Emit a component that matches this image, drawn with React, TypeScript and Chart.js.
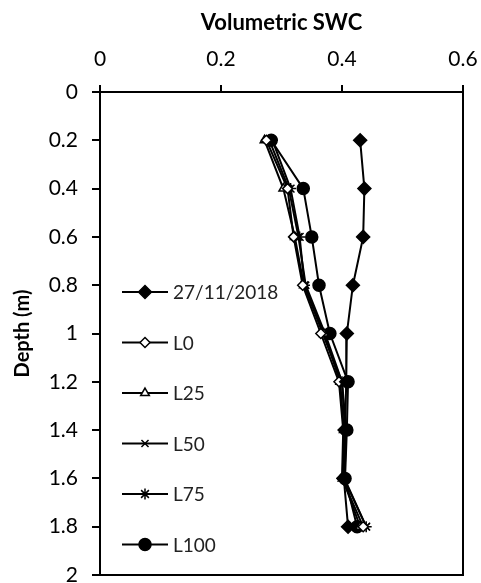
import React, { useEffect, useRef } from 'react';
import { Chart, registerables } from 'chart.js';
import { drawPoint } from 'chart.js/helpers';

Chart.register(...registerables);

// ---- data ----
const depths = [0.2, 0.4, 0.6, 0.8, 1.0, 1.2, 1.4, 1.6, 1.8];
const swc271118 = [0.43, 0.437, 0.435, 0.418, 0.408, 0.407, 0.405, 0.403, 0.41];
const swcL0 = [0.275, 0.31, 0.32, 0.335, 0.365, 0.395, 0.402, 0.4, 0.435];
const swcL25 = [0.272, 0.303, 0.322, 0.337, 0.37, 0.397, 0.403, 0.401, 0.43];
const swcL50 = [0.28, 0.312, 0.328, 0.34, 0.372, 0.4, 0.405, 0.403, 0.44];
const swcL75 = [0.285, 0.315, 0.33, 0.338, 0.368, 0.4, 0.407, 0.404, 0.44];
const swcL100 = [0.283, 0.336, 0.35, 0.362, 0.38, 0.41, 0.408, 0.405, 0.425];
const seriesNames = ['27/11/2018', 'L0', 'L25', 'L50', 'L75', 'L100'];
const seriesValues = [swc271118, swcL0, swcL25, swcL50, swcL75, swcL100];
const xTitle = 'Volumetric SWC';
const yTitle = 'Depth (m)';

const FONT = 'Lato, "Open Sans", sans-serif';

const markerStyles = [
  { pointStyle: 'rectRot', radius: 6.5, fill: '#000' },
  { pointStyle: 'rectRot', radius: 5, fill: '#fff' },
  { pointStyle: 'triangle', radius: 5, fill: '#fff' },
  { pointStyle: 'crossRot', radius: 5, fill: '#000' },
  { pointStyle: 'star', radius: 5.5, fill: '#000' },
  { pointStyle: 'circle', radius: 6, fill: '#000' },
];

const fmt = (v: any) => String(Number(Number(v).toFixed(1)));

const frameAndLegend = {
  id: 'frameAndLegend',
  afterDatasetsDraw(chart: any) {
    const { ctx, chartArea } = chart;
    ctx.save();
    ctx.strokeStyle = '#000';
    ctx.lineWidth = 2;
    ctx.strokeRect(chartArea.left, chartArea.top, chartArea.right - chartArea.left, chartArea.bottom - chartArea.top);

    // legend inside plot area
    const x0 = chartArea.left + 22;
    const x1 = chartArea.left + 68;
    const xm = (x0 + x1) / 2;
    chart.data.datasets.forEach((ds: any, i: number) => {
      const y = chartArea.top + 200 + i * 50.5;
      ctx.strokeStyle = '#000';
      ctx.lineWidth = 2;
      ctx.beginPath();
      ctx.moveTo(x0, y);
      ctx.lineTo(x1, y);
      ctx.stroke();
      ctx.fillStyle = ds.pointBackgroundColor;
      ctx.strokeStyle = '#000';
      ctx.lineWidth = 1.5;
      drawPoint(ctx, { pointStyle: ds.pointStyle, radius: ds.pointRadius, borderWidth: 1.5, rotation: 0 }, xm, y);
      ctx.fillStyle = '#222';
      ctx.font = `19px ${FONT}`;
      ctx.textAlign = 'left';
      ctx.textBaseline = 'middle';
      ctx.fillText(ds.label, x1 + 5, y + 1);
    });
    ctx.restore();
  },
};

export default function App() {
  const ref = useRef<HTMLCanvasElement | null>(null);
  useEffect(() => {
    document.body.style.margin = '0';
    const canvas = ref.current!;
    const datasets = seriesNames.map((name, i) => ({
      label: name,
      data: seriesValues[i].map((v, j) => ({ x: v, y: depths[j] })),
      showLine: true,
      borderColor: '#000',
      borderWidth: 2,
      tension: 0,
      pointStyle: markerStyles[i].pointStyle,
      pointRadius: markerStyles[i].radius,
      pointBackgroundColor: markerStyles[i].fill,
      pointBorderColor: '#000',
      pointBorderWidth: 1.5,
    }));
    const chart = new Chart(canvas, {
      type: 'scatter',
      data: { datasets },
      plugins: [frameAndLegend],
      options: {
        animation: false,
        responsive: false,
        maintainAspectRatio: false,
        layout: { padding: { top: 0, left: 0, right: 18, bottom: 6 } },
        plugins: { legend: { display: false }, tooltip: { enabled: false } },
        scales: {
          x: {
            type: 'linear',
            position: 'top',
            min: 0,
            max: 0.6,
            ticks: { stepSize: 0.2, color: '#000', padding: 13, font: { family: FONT, size: 21 }, callback: fmt },
            grid: { drawOnChartArea: false, drawTicks: true, tickLength: 7, color: '#000', lineWidth: 2 },
            border: { display: false },
            title: { display: true, text: xTitle, color: '#000', font: { family: FONT, size: 22, weight: 'bold' }, padding: { top: 10, bottom: 0 } },
            afterFit: (s: any) => { s.height = 92; s.paddingLeft = 0; s.paddingRight = 0; },
          },
          y: {
            type: 'linear',
            reverse: true,
            min: 0,
            max: 2,
            ticks: { stepSize: 0.2, color: '#000', padding: 14, font: { family: FONT, size: 21 }, callback: fmt },
            grid: { drawOnChartArea: false, drawTicks: true, tickLength: 8, color: '#000', lineWidth: 2 },
            border: { display: false },
            title: { display: true, text: yTitle, color: '#000', font: { family: FONT, size: 20, weight: 'bold' }, padding: { top: 11, bottom: 0 } },
            afterFit: (s: any) => { s.width = 100; s.paddingTop = 0; s.paddingBottom = 0; },
          },
        },
      } as any,
    });
    return () => chart.destroy();
  }, []);
  return (
    <div style={{ width: 481, height: 583 }}>
      <canvas ref={ref} width={481} height={583} style={{ display: 'block' }} />
    </div>
  );
}
